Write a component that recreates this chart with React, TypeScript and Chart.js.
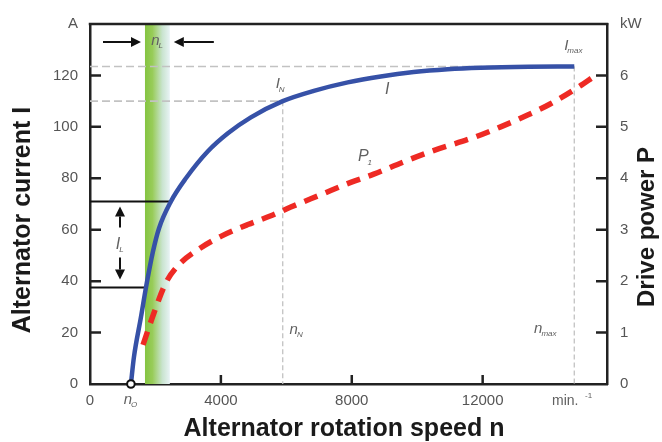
import React, { useEffect, useRef } from 'react';
import { Chart, registerables } from 'chart.js';

Chart.register(...registerables);

// ---- data ----
const speedI = [1250, 1343, 1557, 1710, 1924, 2107, 2473, 2931, 3603, 4214, 4916, 5890, 6840, 7878, 8885, 9893, 10931, 11939, 13400, 14800];
const currentI = [0, 10.5, 26, 37.5, 51.5, 60.5, 71, 80, 90.5, 97.5, 103.7, 110, 114, 117.3, 119.6, 121.3, 122.4, 123, 123.4, 123.5];
const speedP = [1620, 1954, 2320, 2717, 3389, 4000, 4824, 5527, 6137, 7053, 7969, 8672, 9588, 10412, 11800, 12550, 13374, 14076, 14840, 15450];
const powerP = [0.76, 1.38, 1.97, 2.32, 2.65, 2.87, 3.1, 3.27, 3.44, 3.68, 3.92, 4.08, 4.32, 4.52, 4.81, 5.0, 5.23, 5.45, 5.74, 6.0];
const xTickValues = [0, 4000, 8000, 12000];
const xMax = 15800;
const yMaxA = 140;
const yMaxKW = 7;

const nO = 1250;
const nN = 5890;
const nMax = 14800;
const iN = 110;
const iMax = 123.5;
const bandStart = 1680;
const bandEnd = 2440;
const iLow = 37.5;
const iHigh = 71;
const labelIpos = { n: 9080, a: 114.6 };
const labelPpos = { n: 8350, kw: 4.42 };

const FONT = '"Liberation Sans", Arial, Helvetica, sans-serif';
const GRAY = '#606060';

function drawSub(ctx: CanvasRenderingContext2D, main: string, sub: string, x: number, y: number, size = 15, subSize = 8) {
  ctx.save();
  ctx.fillStyle = GRAY;
  ctx.font = `italic ${size}px ${FONT}`;
  ctx.textAlign = 'center';
  ctx.textBaseline = 'middle';
  ctx.fillText(main, x, y);
  const w = ctx.measureText(main).width;
  ctx.font = `italic ${subSize}px ${FONT}`;
  ctx.textAlign = 'left';
  ctx.fillText(sub, x + w / 2 - 1, y + size * 0.35);
  ctx.restore();
}

function arrow(ctx: CanvasRenderingContext2D, x0: number, y0: number, x1: number, y1: number) {
  const ang = Math.atan2(y1 - y0, x1 - x0);
  const hl = 10, hw = 5;
  const bx = x1 - hl * Math.cos(ang), by = y1 - hl * Math.sin(ang);
  ctx.beginPath();
  ctx.moveTo(x0, y0);
  ctx.lineTo(bx, by);
  ctx.stroke();
  ctx.beginPath();
  ctx.moveTo(x1, y1);
  ctx.lineTo(bx + hw * Math.sin(ang), by - hw * Math.cos(ang));
  ctx.lineTo(bx - hw * Math.sin(ang), by + hw * Math.cos(ang));
  ctx.closePath();
  ctx.fill();
}

const deco = {
  id: 'deco',
  beforeDatasetsDraw(chart: any) {
    const { ctx, chartArea: a, scales } = chart;
    const X = (v: number) => scales.x.getPixelForValue(v);
    const Y = (v: number) => scales.y.getPixelForValue(v);
    ctx.save();
    // band
    const x0 = X(bandStart), x1 = X(bandEnd);
    const g = ctx.createLinearGradient(x0, 0, x1, 0);
    g.addColorStop(0, '#84c441');
    g.addColorStop(0.3, '#98cc58');
    g.addColorStop(0.7, '#c9e4cf');
    g.addColorStop(1, '#e8f3f5');
    ctx.fillStyle = g;
    ctx.fillRect(x0, a.top, x1 - x0, a.bottom - a.top);
    // dashed guides
    ctx.strokeStyle = '#c2c2c2';
    ctx.lineWidth = 1.6;
    ctx.setLineDash([8, 4]);
    ctx.beginPath();
    ctx.moveTo(a.left, Y(iMax));
    ctx.lineTo(X(nMax), Y(iMax));
    ctx.moveTo(a.left, Y(iN));
    ctx.lineTo(X(nN), Y(iN));
    ctx.stroke();
    ctx.lineWidth = 1.3;
    ctx.setLineDash([5, 3]);
    ctx.beginPath();
    ctx.moveTo(X(nN), Y(iN));
    ctx.lineTo(X(nN), a.bottom);
    ctx.moveTo(X(nMax), Y(iMax));
    ctx.lineTo(X(nMax), a.bottom);
    ctx.stroke();
    // solid I_L lines
    ctx.setLineDash([]);
    ctx.strokeStyle = '#111';
    ctx.lineWidth = 2;
    ctx.beginPath();
    ctx.moveTo(a.left, Y(iHigh));
    ctx.lineTo(X(bandEnd), Y(iHigh));
    ctx.moveTo(a.left, Y(iLow));
    ctx.lineTo(X(bandStart), Y(iLow));
    ctx.stroke();
    ctx.restore();
  },
  afterDatasetsDraw(chart: any) {
    const { ctx, chartArea: a, scales } = chart;
    const X = (v: number) => scales.x.getPixelForValue(v);
    const Y = (v: number) => scales.y.getPixelForValue(v);
    const Y1 = (v: number) => scales.y1.getPixelForValue(v);
    ctx.save();
    // top frame line
    ctx.strokeStyle = '#222';
    ctx.lineWidth = 2.5;
    ctx.beginPath();
    ctx.moveTo(a.left - 1.25, a.top);
    ctx.lineTo(a.right + 1.25, a.top);
    ctx.stroke();
    // inward ticks
    ctx.lineWidth = 2.5;
    ctx.beginPath();
    for (const t of scales.y.ticks) {
      if (t.value <= 0 || t.value >= yMaxA) continue;
      const yy = Y(t.value);
      ctx.moveTo(a.left, yy);
      ctx.lineTo(a.left + 11, yy);
    }
    for (const t of scales.y1.ticks) {
      if (t.value <= 0 || t.value >= yMaxKW) continue;
      const yy = Y1(t.value);
      ctx.moveTo(a.right, yy);
      ctx.lineTo(a.right - 11, yy);
    }
    for (const v of xTickValues) {
      if (v <= 0) continue;
      const xx = X(v);
      ctx.moveTo(xx, a.bottom);
      ctx.lineTo(xx, a.bottom - 9);
    }
    ctx.stroke();
    // n_O circle
    ctx.beginPath();
    ctx.arc(X(nO), a.bottom, 3.8, 0, Math.PI * 2);
    ctx.fillStyle = '#fff';
    ctx.fill();
    ctx.lineWidth = 2;
    ctx.strokeStyle = '#111';
    ctx.stroke();
    // n_L arrows
    ctx.fillStyle = '#111';
    ctx.strokeStyle = '#111';
    ctx.lineWidth = 2;
    const ay = a.top + 18;
    arrow(ctx, X(bandStart) - 42, ay, X(bandStart) - 4, ay);
    arrow(ctx, X(bandEnd) + 44, ay, X(bandEnd) + 4, ay);
    // I_L arrows
    const ax = a.left + 30;
    arrow(ctx, ax, Y(iHigh) + 26, ax, Y(iHigh) + 5);
    arrow(ctx, ax, Y(iLow) - 30, ax, Y(iLow) - 8);
    ctx.restore();

    // labels
    drawSub(ctx, 'n', 'L', (X(bandStart) + X(bandEnd)) / 2 - 2, ay - 1);
    drawSub(ctx, 'I', 'L', ax - 2, (Y(iHigh) + Y(iLow)) / 2, 16, 8);
    drawSub(ctx, 'I', 'N', X(nN) - 5, Y(iN) - 17);
    drawSub(ctx, 'I', 'max', X(nMax) - 8, Y(iMax) - 21);
    drawSub(ctx, 'n', 'N', X(nN) + 11, Y(21));
    drawSub(ctx, 'n', 'max', X(nMax) - 36, Y(21.5));
    drawSub(ctx, 'n', 'O', X(nO) - 3, a.bottom + 16);
    ctx.save();
    ctx.fillStyle = GRAY;
    ctx.font = `italic 16px ${FONT}`;
    ctx.textAlign = 'center';
    ctx.textBaseline = 'middle';
    ctx.fillText('I', X(labelIpos.n), Y(labelIpos.a));
    ctx.restore();
    drawSub(ctx, 'P', '1', X(labelPpos.n), Y1(labelPpos.kw), 16, 8);

    // min^-1
    ctx.save();
    ctx.fillStyle = GRAY;
    ctx.font = `14px ${FONT}`;
    ctx.textAlign = 'left';
    ctx.textBaseline = 'middle';
    ctx.fillText('min.', 552, a.bottom + 17);
    ctx.font = `8px ${FONT}`;
    ctx.fillText('-1', 585, a.bottom + 12);
    // axis titles
    ctx.fillStyle = '#1a1a1a';
    ctx.font = `bold 25px ${FONT}`;
    ctx.textAlign = 'center';
    ctx.textBaseline = 'middle';
    ctx.fillText('Alternator rotation speed n', 344, 429);
    ctx.save();
    ctx.translate(23, 220);
    ctx.rotate(-Math.PI / 2);
    ctx.fillText('Alternator current I', 0, 0);
    ctx.restore();
    ctx.font = `bold 24px ${FONT}`;
    ctx.save();
    ctx.translate(647, 227);
    ctx.rotate(-Math.PI / 2);
    ctx.fillText('Drive power P', 0, 0);
    ctx.restore();
    ctx.restore();
  },
};

export default function App() {
  const ref = useRef<HTMLCanvasElement | null>(null);
  useEffect(() => {
    if (!ref.current) return;
    const chart = new Chart(ref.current, {
      type: 'line',
      data: {
        datasets: [
          {
            label: 'I',
            data: speedI.map((n, i) => ({ x: n, y: currentI[i] })),
            borderColor: '#3651a7',
            borderWidth: 4.5,
            pointRadius: 0,
            cubicInterpolationMode: 'monotone',
            yAxisID: 'y',
          },
          {
            label: 'P1',
            data: speedP.map((n, i) => ({ x: n, y: powerP[i] })),
            borderColor: '#ee2a24',
            borderWidth: 5.5,
            borderDash: [14, 9],
            pointRadius: 0,
            cubicInterpolationMode: 'monotone',
            yAxisID: 'y1',
          },
        ],
      },
      options: {
        animation: false,
        responsive: true,
        maintainAspectRatio: false,
        layout: { padding: { top: 24, left: 0, right: 0, bottom: 0 } },
        plugins: { legend: { display: false }, tooltip: { enabled: false } },
        scales: {
          x: {
            type: 'linear',
            min: 0,
            max: xMax,
            afterBuildTicks: (s: any) => {
              s.ticks = xTickValues.map((v) => ({ value: v }));
            },
            afterFit: (s: any) => {
              s.height = 58;
            },
            grid: { display: false, drawTicks: false },
            border: { display: true, color: '#222', width: 2.5 },
            ticks: {
              padding: 8,
              color: '#555',
              font: { size: 15, family: FONT },
              maxRotation: 0,
              callback: (v: any) => String(v),
            },
          },
          y: {
            type: 'linear',
            position: 'left',
            min: 0,
            max: yMaxA,
            afterFit: (s: any) => {
              s.width = 90;
            },
            grid: { display: false, drawTicks: false },
            border: { display: true, color: '#222', width: 2.5 },
            ticks: {
              stepSize: 20,
              padding: 12,
              color: '#555',
              font: { size: 15, family: FONT },
              callback: (v: any) => (v === yMaxA ? 'A' : String(v)),
            },
          },
          y1: {
            type: 'linear',
            position: 'right',
            min: 0,
            max: yMaxKW,
            afterFit: (s: any) => {
              s.width = 55;
            },
            grid: { display: false, drawTicks: false },
            border: { display: true, color: '#222', width: 2.5 },
            ticks: {
              stepSize: 1,
              padding: 13,
              color: '#555',
              font: { size: 15, family: FONT },
              callback: (v: any) => (v === yMaxKW ? 'kW' : String(v)),
            },
          },
        },
      },
      plugins: [deco],
    } as any);
    return () => chart.destroy();
  }, []);
  return (
    <div style={{ position: 'absolute', left: 0, top: 0, width: 662, height: 442, background: '#fff' }}>
      <canvas ref={ref} />
    </div>
  );
}
